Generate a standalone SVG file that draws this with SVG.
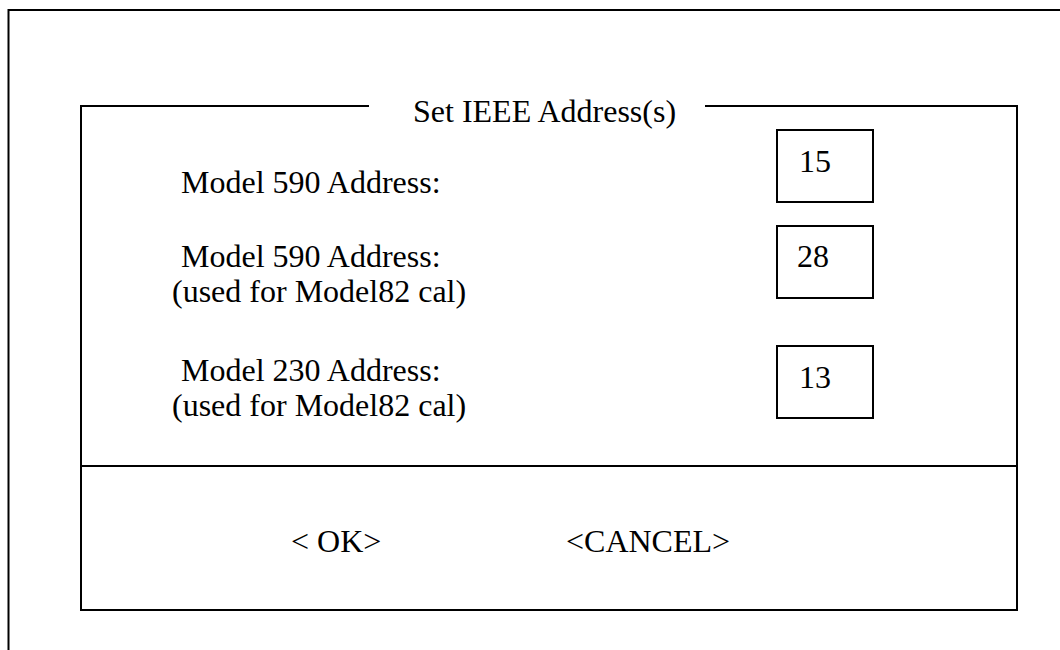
<svg xmlns="http://www.w3.org/2000/svg" width="1060" height="650" viewBox="0 0 1060 650">
<style>
.ln{fill:none;stroke:#000;stroke-width:2}
text{font-family:'Liberation Serif','Times New Roman',serif;font-size:32px;fill:#000}
</style>
<rect x="0" y="0" width="1060" height="650" fill="#fff"/>
<g id="outer-frame">
<path class="ln" d="M8.5,650 L8.5,10 L1060,10"/>
</g>
<g id="dialog">
<path class="ln" d="M369,106 L81,106 L81,610 L1017,610 L1017,106 L705,106"/>
<line class="ln" x1="81" y1="466" x2="1017" y2="466"/>
<text x="413" y="122">Set IEEE Address(s)</text>
</g>
<g id="row1">
<text x="181" y="193">Model 590 Address:</text>
<rect class="ln" x="777" y="130" width="96" height="72"/>
<text x="799" y="172">15</text>
</g>
<g id="row2">
<text x="181" y="267">Model 590 Address:</text>
<text x="172" y="302">(used for Model82 cal)</text>
<rect class="ln" x="777" y="226" width="96" height="72"/>
<text x="797" y="267">28</text>
</g>
<g id="row3">
<text x="181" y="381">Model 230 Address:</text>
<text x="172" y="416">(used for Model82 cal)</text>
<rect class="ln" x="777" y="346" width="96" height="72"/>
<text x="799" y="388">13</text>
</g>
<g id="buttons">
<text x="291" y="552">&lt; OK&gt;</text>
<text x="566" y="552">&lt;CANCEL&gt;</text>
</g>
<g id="connectors"></g>
</svg>
